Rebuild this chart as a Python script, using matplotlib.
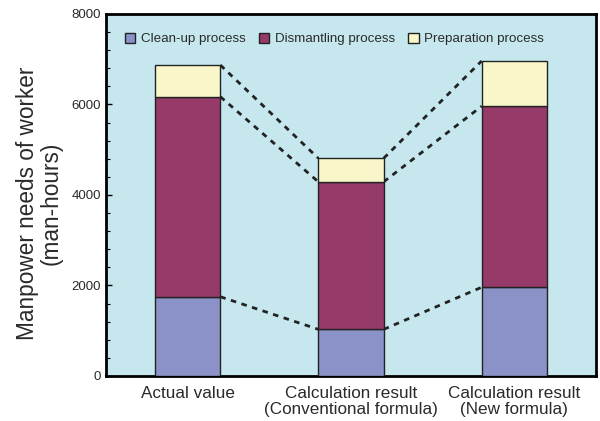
import numpy as np
import matplotlib
matplotlib.use('Agg')
import matplotlib.pyplot as plt
from matplotlib.ticker import MultipleLocator

plt.rcParams['font.family'] = ['Liberation Sans', 'DejaVu Sans']

categories = ['Actual value', 'Calculation result\n(Conventional formula)',
              'Calculation result\n(New formula)']
cleanup = [1750, 1030, 1960]
dismantling = [4420, 3260, 4000]
preparation = [700, 520, 1000]
series_names = ['Clean-up process', 'Dismantling process', 'Preparation process']
colors = ['#8a92c8', '#963a6a', '#f9f7ca']
text_col = '#2a2a2a'

fig = plt.figure(figsize=(6, 4.21), dpi=100)
ax = fig.add_axes([0.1767, 0.107, 0.8166, 0.86])
ax.set_facecolor('#c6e7ee')

x = np.arange(len(categories))
w = 0.4
b1 = np.array(cleanup)
b2 = b1 + np.array(dismantling)
b3 = b2 + np.array(preparation)

ax.bar(x, cleanup, w, color=colors[0], edgecolor='#222222', lw=1, label=series_names[0], zorder=3)
ax.bar(x, dismantling, w, bottom=b1, color=colors[1], edgecolor='#222222', lw=1, label=series_names[1], zorder=3)
ax.bar(x, preparation, w, bottom=b2, color=colors[2], edgecolor='#222222', lw=1, label=series_names[2], zorder=3)

# dashed connectors between neighbouring bars
for tops in (b1, b2, b3):
    for i in range(len(x) - 1):
        ax.plot([x[i] + w / 2, x[i + 1] - w / 2], [tops[i], tops[i + 1]],
                ls=(0, (2, 2)), color='#222222', lw=2, zorder=2)

ax.set_xlim(-0.5, 2.5)
ax.set_ylim(0, 8000)
ax.set_xticks(x)
ax.set_xticklabels(categories, fontsize=12.3, color=text_col, linespacing=1.15)
ax.set_yticks([0, 2000, 4000, 6000, 8000])
ax.yaxis.set_minor_locator(MultipleLocator(400))
ax.tick_params(axis='y', direction='in', labelsize=9.5, labelcolor=text_col, length=4, width=1)
ax.tick_params(axis='y', which='minor', direction='in', length=3, width=0.8)
ax.tick_params(axis='x', length=0, pad=7)
for s in ax.spines.values():
    s.set_linewidth(2)
ax.set_ylabel('Manpower needs of worker\n(man-hours)', fontsize=16.3,
              color=text_col, linespacing=1.05)
ax.yaxis.set_label_coords(-0.088, 0.477)

leg = ax.legend(loc='upper left', ncol=3, frameon=False, fontsize=9.6,
                handlelength=0.8, handleheight=0.8, handletextpad=0.4,
                columnspacing=1.0, borderaxespad=0.9, borderpad=0.5)
for t in leg.get_texts():
    t.set_color(text_col)

fig.savefig('out.png', dpi=100)
